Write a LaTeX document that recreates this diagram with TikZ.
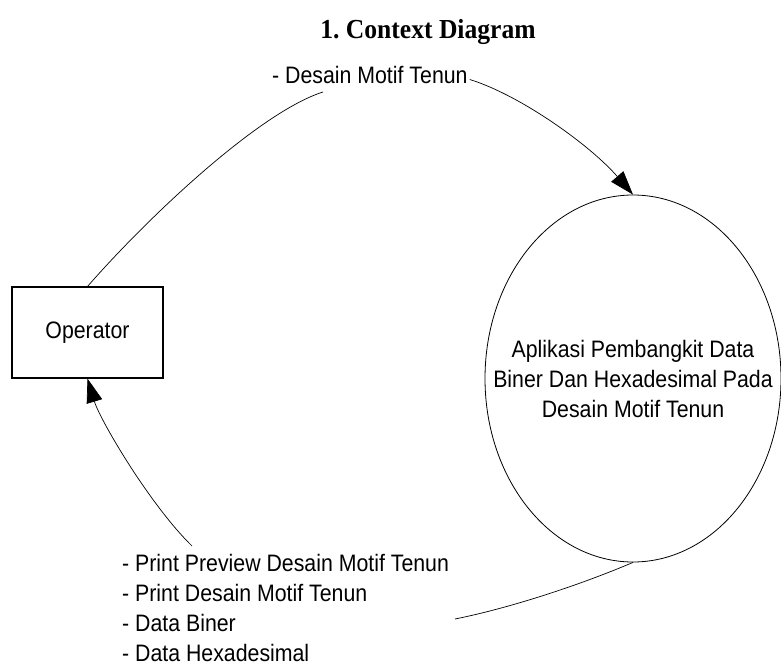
\documentclass[tikz,border=0pt]{standalone}
\usepackage{fontspec}
\setmainfont{Liberation Serif}
\newfontfamily\flowfont[FakeStretch=0.895]{Liberation Sans}
\newfontfamily\headfont[FakeStretch=0.93]{Liberation Serif}
\usetikzlibrary{shapes.geometric,arrows.meta,calc}
\begin{document}
\frenchspacing
\begin{tikzpicture}[x=1pt,y=-1pt,
  flow/.style={line width=0.7pt},
  tip/.style={-{Triangle[length=24pt,width=16pt]}},
  lbl/.style={font=\flowfont\fontsize{23.8}{30}\selectfont, inner sep=0pt},
]
\useasboundingbox (0,0) rectangle (781,666);

% title
\node[font=\headfont\bfseries\fontsize{27.5}{30}\selectfont, anchor=base] (title) at (428,39) {1. Context Diagram};

% external entity and process
\node[lbl, draw, line width=1.1pt, minimum width=151pt, minimum height=91pt] (op) at (87.5,332.5) {Operator};
\node[draw, ellipse, line width=0.8pt, minimum width=296pt, minimum height=367pt, inner sep=0pt] (proc) at (633,378.5) {};
\node[lbl, align=center] (proctext) at (proc.center) {Aplikasi Pembangkit Data\\Biner Dan Hexadesimal Pada\\Desain Motif Tenun};

% data flow labels
\node[lbl, anchor=base west] (inlbl) at (272,84) {- Desain Motif Tenun};
\node[lbl, anchor=north west, align=left] (outlbl) at (122,554)
  {- Print Preview Desain Motif Tenun\\- Print Desain Motif Tenun\\- Data Biner\\- Data Hexadesimal};

\coordinate (inleft) at (323,92);
\coordinate (outtop) at (192,546);
\coordinate (outend) at (455,619);

% incoming flow: Operator -> process
\draw[flow] (op.north) .. controls (150,215) and (260,112) .. (inleft);
\draw[flow, tip] ($(inlbl.east)+(2,4)$) .. controls (520,95) and (590,145) .. (proc.north);

% outgoing flow: process -> Operator
\draw[flow] (proc.south) .. controls (580,585) and (510,608) .. (outend);
\draw[flow, tip] (outtop) .. controls (150,505) and (100,420) .. (op.south);
\end{tikzpicture}
\end{document}
